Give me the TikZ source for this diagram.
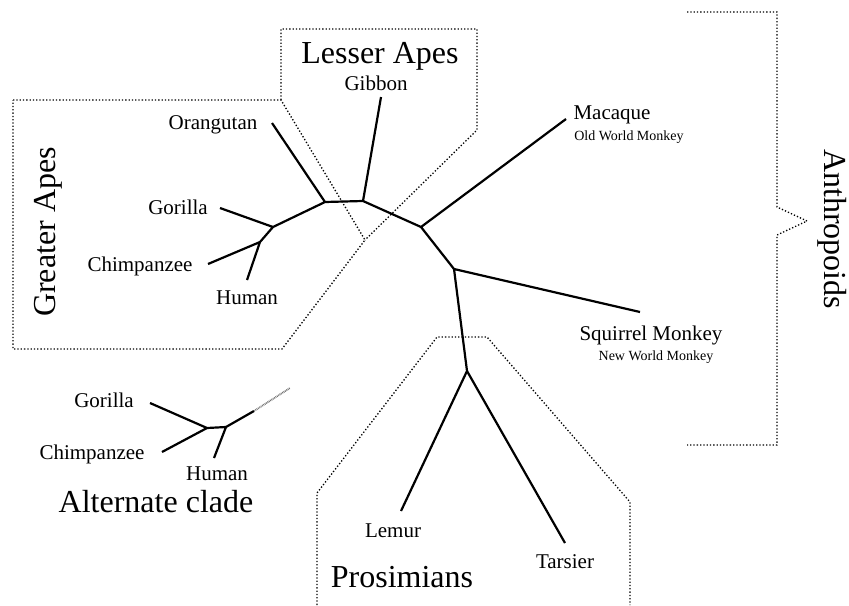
\documentclass[tikz,border=0pt]{standalone}
\usepackage{fontspec}
\setmainfont{Liberation Serif}

\begin{document}
\begin{tikzpicture}[x=0.5pt,y=-0.5pt,
    branch/.style={line width=1.1pt},
    clade/.style={line width=0.65pt, dash pattern=on 0.65pt off 1pt},
    stub/.style={black!55, line width=0.9pt, dash pattern=on 0.4pt off 0.4pt},
    taxon/.style={font=\fontsize{10.5}{12}\selectfont, inner sep=0pt, anchor=base},
    note/.style={font=\fontsize{7}{8}\selectfont, inner sep=0pt, anchor=base},
    group/.style={font=\fontsize{16}{19}\selectfont, inner sep=0pt, anchor=base}]

      \useasboundingbox (0,0) rectangle (849,605);

      %%% dotted groupings %%%
      \draw[clade] (13,100) -- (281,100) -- (365,240) -- (282,349) -- (13,349) -- cycle;
      \draw[clade] (281,100) -- (281,29) -- (477,29) -- (477,130) -- (365,240);
      \draw[clade] (317,605) -- (317,493) -- (437,337) -- (487,337) -- (630,502) -- (630,605);
      \draw[clade] (687,12) -- (777,12) -- (777,207) -- (807,221) -- (777,235) -- (777,445) -- (687,445);

      \node[group, rotate=90] (greater) at (55,232) {Greater Apes};
      \node[group] (lesser) at (380,63) {Lesser Apes};
      \node[group] (prosim) at (402,587) {Prosimians};
      \node[group, rotate=-90] (anthro) at (824,229) {Anthropoids};

      %%% main tree %%%
      \coordinate (jOra) at (325,202);
      \coordinate (jGib) at (363,201);
      \coordinate (jGor) at (273,227);
      \coordinate (jHum) at (260,242);
      \coordinate (jMac) at (421,227);
      \coordinate (jSqu) at (454,269);
      \coordinate (jPro) at (467,371);
      \coordinate (tOra) at (272,123);
      \coordinate (tGib) at (381,97);
      \coordinate (tGor) at (220,208);
      \coordinate (tChi) at (208,264);
      \coordinate (tHum) at (247,280);
      \coordinate (tMac) at (566,119);
      \coordinate (tSqu) at (640,312);
      \coordinate (tLem) at (401,511);
      \coordinate (tTar) at (565,543);

      \draw[branch]
      (tOra) -- (jOra) -- (jGib) -- (tGib)
      (jGib) -- (jMac) -- (tMac)
      (jMac) -- (jSqu) -- (tSqu)
      (jSqu) -- (jPro) -- (tLem)
      (jPro) -- (tTar)
      (jOra) -- (jGor) -- (tGor)
      (jGor) -- (jHum) -- (tChi)
      (jHum) -- (tHum);

      \node[taxon] (ora) at (213,129) {Orangutan};
      \node[taxon] (gib) at (376,90) {Gibbon};
      \node[taxon] (gor) at (178,214) {Gorilla};
      \node[taxon] (chi) at (140,271) {Chimpanzee};
      \node[taxon] (hum) at (247,304) {Human};
      \node[taxon] (mac) at (612,119) {Macaque};
      \node[note] (owm) at (629,140) {Old World Monkey};
      \node[taxon] (squ) at (651,340) {Squirrel Monkey};
      \node[note] (nwm) at (656,360) {New World Monkey};
      \node[taxon] (lem) at (393,537) {Lemur};
      \node[taxon] (tar) at (565,568) {Tarsier};

      % alternate clade
      \coordinate (aGor) at (150,403);
      \coordinate (aChi) at (162,452);
      \coordinate (aHum) at (214,458);
      \coordinate (aJ1) at (207,428);
      \coordinate (aJ2) at (226,427);
      \coordinate (aStem) at (254,411);
      \coordinate (aFade) at (290,388);
      \draw[branch] (aGor) -- (aJ1) -- (aChi) (aJ1) -- (aJ2) -- (aHum) (aJ2) -- (aStem);
      \draw[stub] (aStem) -- (aFade);

      \node[taxon] (aGorL) at (104,407) {Gorilla};
      \node[taxon] (aChiL) at (92,459) {Chimpanzee};
      \node[taxon] (aHumL) at (217,480) {Human};
      \node[group] (alt) at (156,512) {Alternate clade};

    \end{tikzpicture}
\end{document}
